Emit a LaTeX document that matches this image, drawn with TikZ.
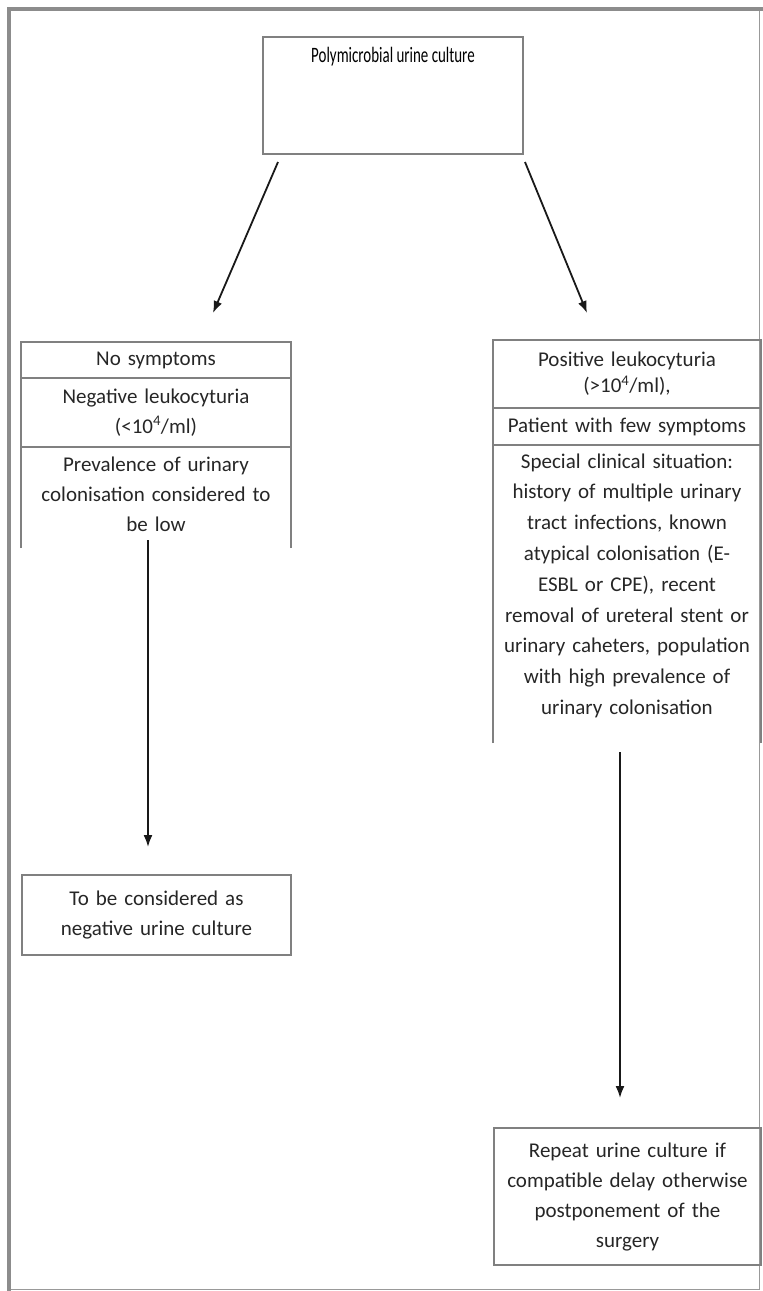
\documentclass[tikz,border=0pt]{standalone}
\usepackage{fontspec}
\setmainfont{Carlito}
\newfontfamily\narrowfont[FakeStretch=0.68]{Carlito}
\usetikzlibrary{positioning,arrows.meta}

\begin{document}
\begin{tikzpicture}[
  x=1pt, y=-1pt,
  every node/.style={font=\fontsize{21}{30}\selectfont, text=black!85, inner sep=2pt, outer sep=0pt},
  startbox/.style={rectangle, draw=black!50, line width=1.4pt, minimum width=260pt, minimum height=117pt},
  row/.style={rectangle, draw=black!50, line width=1.4pt, align=center, text width=#1},
  row/.default=266pt,
  openrow/.style={rectangle, align=center, text width=#1},
  openrow/.default=266pt,
  endbox/.style={rectangle, draw=black!50, line width=1.4pt, align=center, text width=#1},
  flow/.style={draw=black!90, line width=1.8pt, -{Latex[length=12pt,width=9pt]}}
]
\useasboundingbox (0,0) rectangle (763,1291);
% frame
\draw[black!40, line width=0.8pt] (759,9) -- (759,1289) -- (9,1289);
\draw[black!45, line width=3.5pt] (9,1291) -- (9,9) -- (763,9);

% start
\node [startbox] (culture) at (393,95.5) {};
\node [font=\narrowfont\fontsize{22}{26}\selectfont, text=black] (culturetext) at (393,57) {Polymicrobial urine culture};

% left branch
\node [row, minimum height=36pt, anchor=north] (nosym) at (156,342) {No symptoms};
\node [row, minimum height=69pt, below=0pt of nosym] (negleuk) {Negative leukocyturia\\(<10\textsuperscript{4}/ml)};
\node [openrow, text height=22pt, text depth=75pt, below=0pt of negleuk] (prevalence) {Prevalence of urinary\\colonisation considered to\\be low};
\draw[black!50, line width=1.4pt] (prevalence.south west) -- (prevalence.north west)
  (prevalence.south east) -- (prevalence.north east);
\node [endbox=265pt, minimum height=80pt] (negculture) at (156.5,915) {To be considered as\\negative urine culture};

% right branch
\node [row=264pt, minimum height=68pt, anchor=north] (posleuk) at (627,340) {Positive leukocyturia\\[-4pt](>10\textsuperscript{4}/ml),};
\node [row=264pt, minimum height=37pt, below=0pt of posleuk] (fewsym) {Patient with few symptoms};
\node [openrow=264pt, font=\fontsize{21}{30.8}\selectfont, text height=21pt, text depth=273pt, below=0pt of fewsym] (special) {Special clinical situation:\\history of multiple urinary\\tract infections, known\\atypical colonisation (E-\\ESBL or CPE), recent\\removal of ureteral stent or\\urinary caheters, population\\with high prevalence of\\urinary colonisation};
\draw[black!50, line width=1.4pt] (special.south west) -- (special.north west)
  (special.south east) -- (special.north east);
\node [endbox=263pt, minimum height=137pt] (repeat) at (627.5,1196.5) {Repeat urine culture if\\compatible delay otherwise\\postponement of the\\surgery};

% connectors
\draw[flow] ([xshift=15pt,yshift=-8pt]culture.south west) -- ([xshift=57pt,yshift=29pt]nosym.north);
\draw[flow] ([xshift=2pt,yshift=-8pt]culture.south east) -- ([xshift=-40pt,yshift=27pt]posleuk.north);
\draw[flow] ([xshift=-8pt,yshift=8pt]prevalence.south) -- ([xshift=-8.5pt,yshift=28pt]negculture.north);
\draw[flow] ([xshift=-7pt,yshift=-9pt]special.south) -- ([xshift=-7.5pt,yshift=30pt]repeat.north);
\end{tikzpicture}
\end{document}
